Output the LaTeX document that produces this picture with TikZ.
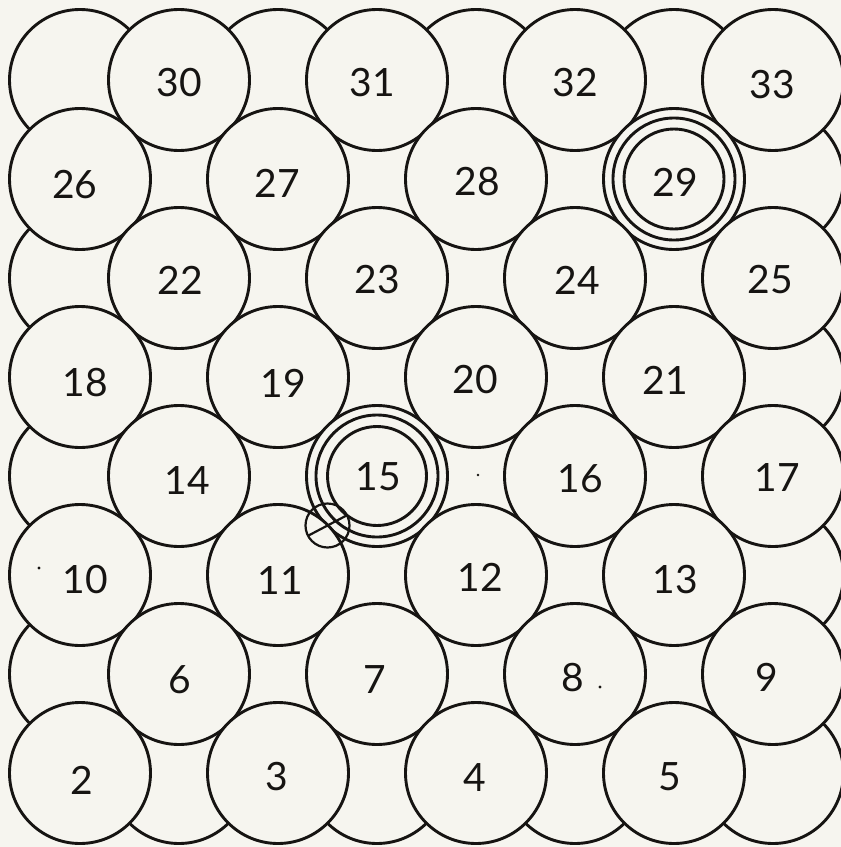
\documentclass[tikz,border=0pt]{standalone}
\usepackage{fontspec}
\usetikzlibrary{calc}
\setmainfont{Lato}
\definecolor{paper}{RGB}{246,245,239}
\definecolor{ink}{RGB}{22,20,18}
\begin{document}
\begin{tikzpicture}[x=0.5pt,y=-0.5pt,
  ballbase/.style={circle,draw=ink,fill=paper,line width=1.45pt,minimum size=70.5pt,inner sep=0pt,outer sep=0pt},
  bgball/.style={ballbase},
  ball/.style={ballbase},
  ring/.style={draw=ink,line width=1.45pt},
  lab/.style={inner sep=0pt,text=ink,font=\fontsize{19.5pt}{20pt}\selectfont},
  speck/.style={fill=ink}]
\fill[paper] (0,0) rectangle (841,847);
\useasboundingbox (0,0) rectangle (841,847);
\clip (0,0) rectangle (841,847);
% background (unnumbered) circles
\foreach \j in {0,...,7}{
  \foreach \i in {0,...,7}{
    \pgfmathtruncatemacro\pty{mod(\i+\j,2)}
    \ifnum\pty=0
      \node[bgball] (b\i-\j) at ({80+99*\i},{80+99*\j}) {};
    \fi
  }
}
% numbered circles
\foreach \i/\j/\n in {1/0/30,3/0/31,5/0/32,7/0/33,
                      0/1/26,2/1/27,4/1/28,6/1/29,
                      1/2/22,3/2/23,5/2/24,7/2/25,
                      0/3/18,2/3/19,4/3/20,6/3/21,
                      1/4/14,3/4/15,5/4/16,7/4/17,
                      0/5/10,2/5/11,4/5/12,6/5/13,
                      1/6/6,3/6/7,5/6/8,7/6/9,
                      0/7/2,2/7/3,4/7/4,6/7/5}{
  \node[ball] (n\n) at ({80+99*\i},{80+99*\j}) {};
}
% concentric rings
\draw[ring] (n15.center) circle[radius=61];
\draw[ring] (n15.center) circle[radius=49.5];
\draw[ring] (n29.center) circle[radius=61];
\draw[ring] (n29.center) circle[radius=50];
% small marked circle at the contact of 11 and 15
\coordinate (mk) at ($(n11.center)!0.5!(n15.center)$);
\draw[ring,line width=1.1pt] (mk) circle[radius=22];
\draw[ink,line width=1.1pt] ([shift={(-19,10)}]mk) -- ([shift={(19,-10)}]mk);
% labels
\foreach \n/\x/\y in {30/179/83,31/372/83,32/575/83,33/772/85,
                      26/75/185,27/277/183,28/477/182,29/675/182,
                      22/180/280,23/377/280,24/577/280,25/770/280,
                      18/85/383,19/283/383,20/475/380,21/665/380,
                      14/187/480,15/378/477,16/580/479,17/777/477,
                      10/85/580,11/280/580,12/480/577,13/675/580,
                      6/180/680,7/375/680,8/573/678,9/767/677,
                      2/82/780,3/277/777,4/475/778,5/670/777}{
  \node[lab] (t\n) at (\x,\y) {\n};
}
% stray specks
\fill[speck] (600,687) circle[radius=1.6];
\fill[speck] (39,568) circle[radius=1.6];
\fill[speck] (478,475) circle[radius=1.4];
\end{tikzpicture}
\end{document}
